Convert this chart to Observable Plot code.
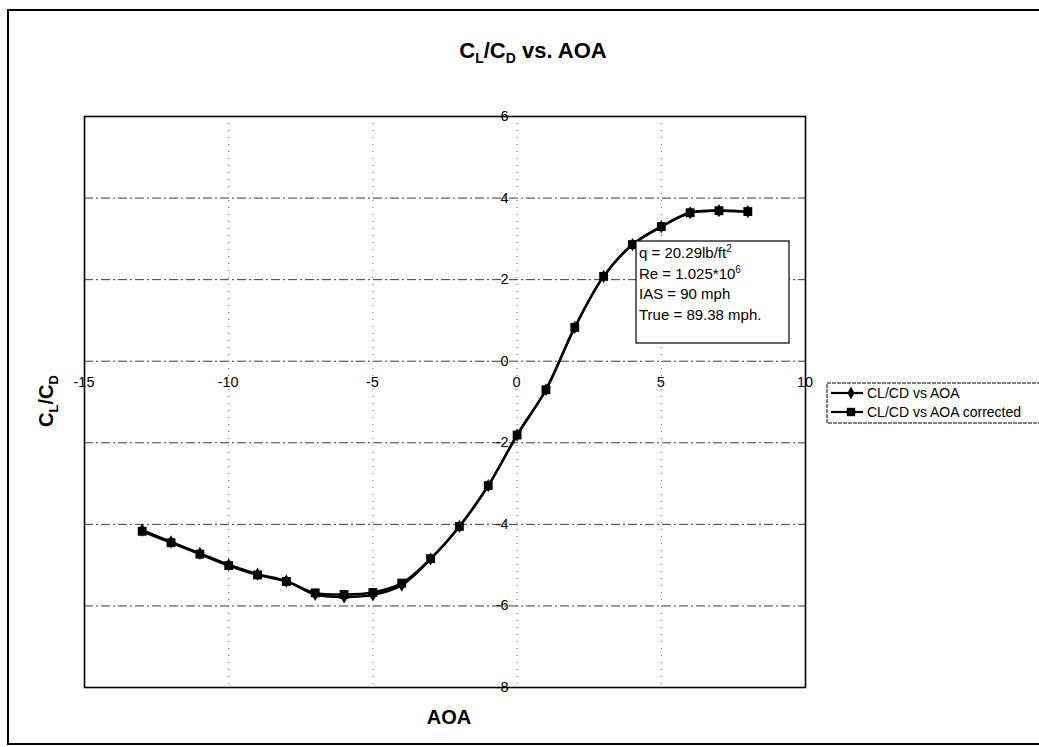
<!DOCTYPE html>
<html>
<head>
<meta charset="utf-8">
<script src="https://cdn.jsdelivr.net/npm/d3@7"></script>
<script src="https://cdn.jsdelivr.net/npm/@observablehq/plot@0.6"></script>
<style>
  html, body { margin: 0; padding: 0; background: #fff; overflow: hidden; }
  svg { display: block; }
</style>
</head>
<body>
<div id="chart"></div>
<script>
// ---- data ----
const aoa = [-13, -12, -11, -10, -9, -8, -7, -6, -5, -4, -3, -2, -1, 0, 1, 2, 3, 4, 5, 6, 7, 8];
const clcd = [-4.14, -4.43, -4.71, -4.99, -5.22, -5.39, -5.72, -5.78, -5.73, -5.49, -4.85, -4.05, -3.05, -1.81, -0.70, 0.83, 2.08, 2.86, 3.30, 3.64, 3.69, 3.67];
const clcdCorrected = [-4.17, -4.45, -4.73, -5.01, -5.24, -5.40, -5.68, -5.72, -5.67, -5.44, -4.84, -4.05, -3.05, -1.81, -0.70, 0.83, 2.08, 2.86, 3.30, 3.64, 3.69, 3.67];
const xTicks = [-15, -10, -5, 0, 5, 10];
const yTicks = [-8, -6, -4, -2, 0, 2, 4, 6];
const xGrid = [-10, -5, 0, 5];
const yGrid = [-6, -4, -2, 0, 2, 4];
const seriesNames = ["CL/CD vs AOA", "CL/CD vs AOA corrected"];
const noteLines = [
  ["q = 20.29lb/ft", "2"],
  ["Re = 1.025*10", "6"],
  ["IAS = 90 mph", ""],
  ["True = 89.38 mph.", ""]
];

const raw = aoa.map((a, i) => ({aoa: a, v: clcd[i]}));
const cor = aoa.map((a, i) => ({aoa: a, v: clcdCorrected[i]}));

const FONT = "'Liberation Sans', Arial, Helvetica, sans-serif";
const W = 1039, H = 747;

const svg = Plot.plot({
  width: W,
  height: H,
  marginLeft: 84,
  marginRight: 234,
  marginTop: 116,
  marginBottom: 60,
  style: {fontFamily: FONT, background: "#fff", color: "#000", overflow: "hidden"},
  x: {domain: [-15, 10], axis: null},
  y: {domain: [-8, 6], axis: null},
  marks: [
    Plot.ruleY(yGrid, {y: d => d, stroke: "#3a3a3a", strokeWidth: 1, strokeDasharray: "9,3,2,3"}),
    Plot.ruleX(xGrid, {x: d => d, stroke: "#666", strokeWidth: 1, strokeDasharray: "1,6"}),
    Plot.frame({stroke: "#000", strokeWidth: 1.6}),
    Plot.line(raw, {x: "aoa", y: "v", curve: "catmull-rom", stroke: "#000", strokeWidth: 2.4}),
    Plot.dot(raw, {x: "aoa", y: "v", symbol: "diamond", r: 4, fill: "#000", stroke: "none"}),
    Plot.line(cor, {x: "aoa", y: "v", curve: "catmull-rom", stroke: "#000", strokeWidth: 2.4}),
    Plot.dot(cor, {x: "aoa", y: "v", symbol: "square", r: 5, fill: "#000", stroke: "none"})
  ]
});

document.getElementById("chart").appendChild(svg);

const s = d3.select(svg);
const sx = svg.scale("x"), sy = svg.scale("y");

// tick labels, Excel style: axes cross at 0
const tl = s.append("g").attr("font-family", FONT).attr("font-size", 14.5).attr("fill", "#000");
xTicks.forEach(v => {
  tl.append("text").attr("x", sx.apply(v)).attr("y", sy.apply(0) + 26)
    .attr("text-anchor", "middle").text(String(v));
});
yTicks.forEach(v => {
  tl.append("text").attr("x", sx.apply(0) - 8).attr("y", sy.apply(v) + 5)
    .attr("text-anchor", "end").text(String(v));
});

// outer chart border (right side lies outside the picture)
s.append("path")
  .attr("d", `M${W + 20},10 H8 V744 H${W + 20}`)
  .attr("fill", "none").attr("stroke", "#000").attr("stroke-width", 2);

// title
const title = s.append("text")
  .attr("x", 533).attr("y", 58)
  .attr("text-anchor", "middle")
  .attr("font-family", FONT).attr("font-weight", "bold").attr("font-size", 22)
  .attr("fill", "#000");
title.append("tspan").text("C");
title.append("tspan").attr("font-size", 14).attr("dy", 5).text("L");
title.append("tspan").attr("dy", -5).text("/C");
title.append("tspan").attr("font-size", 14).attr("dy", 5).text("D");
title.append("tspan").attr("dy", -5).text(" vs. AOA");

// x label
s.append("text")
  .attr("x", 449).attr("y", 724)
  .attr("text-anchor", "middle")
  .attr("font-family", FONT).attr("font-weight", "bold").attr("font-size", 20)
  .attr("fill", "#000").text("AOA");

// y label
const yl = s.append("text")
  .attr("transform", "translate(53,401) rotate(-90)")
  .attr("text-anchor", "middle")
  .attr("font-family", FONT).attr("font-weight", "bold").attr("font-size", 20)
  .attr("fill", "#000");
yl.append("tspan").text("C");
yl.append("tspan").attr("font-size", 13).attr("dy", 5).text("L");
yl.append("tspan").attr("dy", -5).text("/C");
yl.append("tspan").attr("font-size", 13).attr("dy", 5).text("D");

// annotation box
const ng = s.append("g");
ng.append("rect")
  .attr("x", 636).attr("y", 241).attr("width", 153).attr("height", 102)
  .attr("fill", "#fff").attr("stroke", "#000").attr("stroke-width", 1.2);
noteLines.forEach((ln, i) => {
  const t = ng.append("text")
    .attr("x", 639).attr("y", 258 + i * 20.5)
    .attr("text-anchor", "start")
    .attr("font-family", FONT).attr("font-size", 15).attr("fill", "#000");
  t.append("tspan").text(ln[0]);
  if (ln[1]) t.append("tspan").attr("font-size", 10).attr("dy", -6).text(ln[1]);
});

// legend
const lg = s.append("g");
lg.append("rect")
  .attr("x", 827).attr("y", 383).attr("width", 230).attr("height", 40)
  .attr("fill", "#fff").attr("stroke", "#000").attr("stroke-width", 1).attr("stroke-dasharray", "4,1");
seriesNames.forEach((name, i) => {
  const yy = 393 + i * 19;
  lg.append("line").attr("x1", 831).attr("x2", 863).attr("y1", yy).attr("y2", yy)
    .attr("stroke", "#000").attr("stroke-width", 2.2);
  lg.append("path")
    .attr("d", d3.symbol(i === 0 ? d3.symbolDiamond : d3.symbolSquare, i === 0 ? 45 : 70)())
    .attr("transform", `translate(851,${yy})`)
    .attr("fill", "#000");
  lg.append("text").attr("x", 867).attr("y", yy + 5)
    .attr("text-anchor", "start")
    .attr("font-family", FONT).attr("font-size", 14).attr("fill", "#000").text(name);
});
</script>
</body>
</html>
